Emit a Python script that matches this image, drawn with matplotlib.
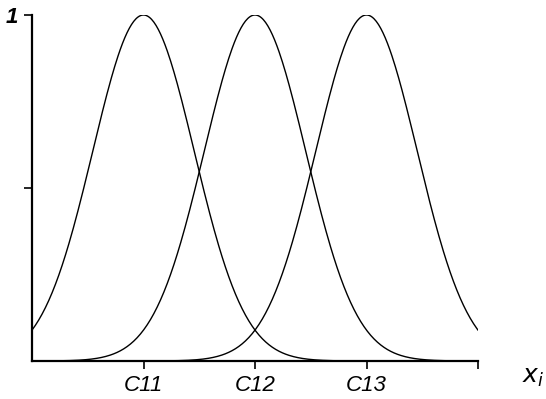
import numpy as np
import matplotlib.pyplot as plt

plt.rcParams['font.family'] = ['Liberation Sans', 'DejaVu Sans']

# Membership functions: Gaussian centres and common width
centers = [1.0, 2.0, 3.0]
sigma = 0.455
x_ticks = [1, 2, 3, 4]
x_labels = ['C11', 'C12', 'C13', '']
y_ticks = [0.5, 1.0]
y_labels = ['', '1']

fig = plt.figure(figsize=(5.46, 3.99), dpi=100)
ax = fig.add_axes([32 / 546, 38 / 399, (478 - 32) / 546, (361 - 15) / 399])

x = np.linspace(0, 4, 400)
for c in centers:
    ax.plot(x, np.exp(-(x - c) ** 2 / (2 * sigma ** 2)), color='black', lw=1.0)

ax.set_xlim(0, 4)
ax.set_ylim(0, 1)
ax.spines['top'].set_visible(False)
ax.spines['right'].set_visible(False)
ax.spines['left'].set_linewidth(1.6)
ax.spines['bottom'].set_linewidth(1.6)

ax.set_xticks(x_ticks)
ax.set_xticklabels(x_labels, fontsize=16, style='italic')
ax.set_yticks(y_ticks)
ax.set_yticklabels(y_labels, fontsize=16, style='italic', fontweight='bold')
ax.tick_params(axis='both', direction='out', length=6, width=1.2, pad=4)

fig.text(522 / 546, 1 - 383 / 399, r'$x_i$', fontsize=18, ha='left', va='baseline')

fig.savefig('out.png', dpi=100)
